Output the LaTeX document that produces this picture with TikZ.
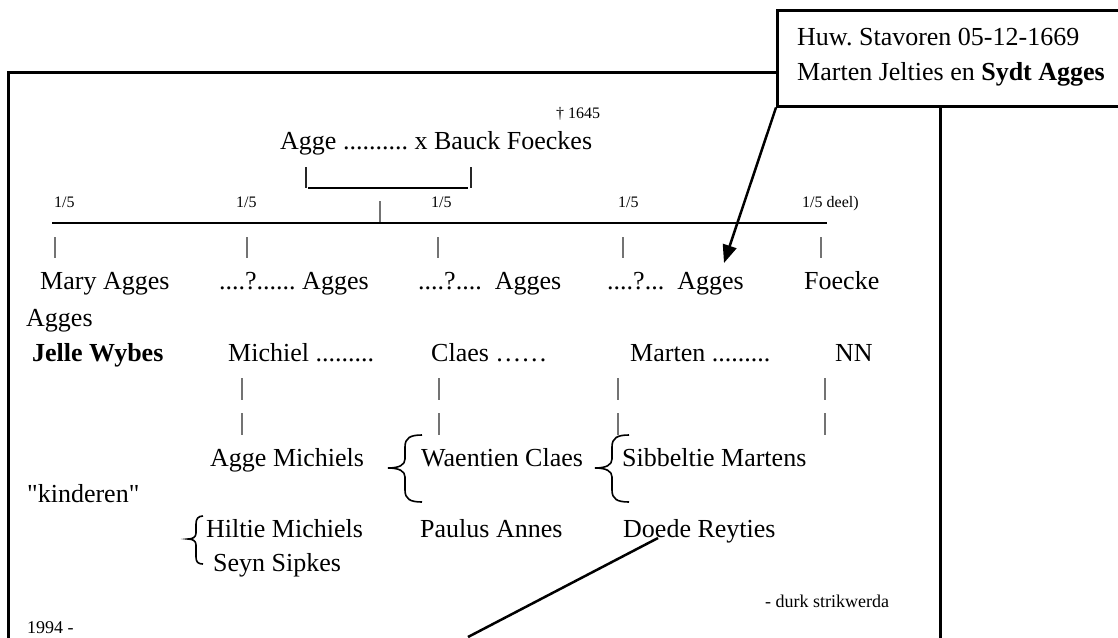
\documentclass[tikz,border=0pt]{standalone}
\usepackage{fontspec}
\setmainfont{Liberation Serif}[Ligatures=TeXOff]
\usetikzlibrary{arrows.meta}
\frenchspacing
\tikzset{
  txt/.style={anchor=base west, inner sep=0pt, font=\fontsize{26}{30}\selectfont},
  tiny/.style={anchor=base west, inner sep=0pt, font=\fontsize{16}{19}\selectfont},
  sign/.style={anchor=base west, inner sep=0pt, font=\fontsize{18}{21}\selectfont},
  heavy/.style={line width=2.5pt},
  framel/.style={line width=3pt},
  gbar/.style={line width=1.1pt, draw=black!55},
  dbar/.style={line width=1.4pt, draw=black!85},
  bracel/.style={line width=1.6pt},
}
\begin{document}
\begin{tikzpicture}[x=1pt,y=-1pt]
\useasboundingbox (0,0) rectangle (1118,637);
\clip (0,0) rectangle (1118,637);
% frame and callout
\node[draw, line width=2.5pt, anchor=north west, minimum width=360pt, minimum height=96pt, inner sep=0pt, fill=white] (box) at (776,9) {};
\coordinate (ftl) at (8,72);
\coordinate (fbl) at (8,660);
\coordinate (ftr) at (776,72);
\coordinate (rtop) at (940,105);
\coordinate (rbot) at (940,660);
\draw[framel] (fbl) -- (ftl) -- (ftr);
\draw[framel] (rtop) -- (rbot);
\node[txt] (huw) at (797,45) {\frenchspacing Huw. Stavoren 05-12-1669};
\node[txt] (mj) at (797,80) {Marten Jelties en \textbf{Sydt Agges}};
% parents
\node[tiny] (dag) at (556,118) {† 1645};
\node[txt] (par) at (280,149) {\frenchspacing Agge .......... x Bauck Foeckes};
\coordinate (pl1) at (306,167); \coordinate (pl2) at (306,188);
\coordinate (pr1) at (471,167); \coordinate (pr2) at (471,188);
\draw[dbar] (pl1) -- (pl2);
\draw[dbar] (pr1) -- (pr2);
\coordinate (mb1) at (308,188); \coordinate (mb2) at (468,188);
\draw[heavy] (mb1) -- (mb2);
\coordinate (tk1) at (380,201); \coordinate (tk2) at (380,222);
\draw[gbar] (tk1) -- (tk2);
% main line
\coordinate (ml1) at (52,223); \coordinate (ml2) at (827,223);
\draw[heavy] (ml1) -- (ml2);
\node[tiny] (f1) at (54,207) {1/5};
\node[tiny] (f2) at (236,207) {1/5};
\node[tiny] (f3) at (431,207) {1/5};
\node[tiny] (f4) at (618,207) {1/5};
\node[tiny] (f5) at (802,207) {1/5 deel)};
\foreach \x [count=\i] in {55,247,438,623,821}{
  \coordinate (ua\i) at (\x,237); \coordinate (ub\i) at (\x,258);
  \draw[gbar] (ua\i) -- (ub\i);
}
% children
\node[txt] (c1) at (40,289) {Mary Agges};
\node[txt] (c2) at (219,289) {\frenchspacing ....?...... Agges};
\node[txt] (c3) at (418,289) {....?....\ \ Agges};
\node[txt] (c4) at (607,289) {....?...\ \ Agges};
\node[txt] (c5) at (804,289) {Foecke};
\node[txt] (c1b) at (26,326) {Agges};
% spouses
\node[txt] (s1) at (32,361) {\textbf{Jelle Wybes}};
\node[txt] (s2) at (228,361) {Michiel .........};
\node[txt] (s3) at (431,361) {Claes ……};
\node[txt] (s4) at (630,361) {Marten .........};
\node[txt] (s5) at (835,361) {NN};
\foreach \x [count=\i] in {242,439,618,825}{
  \coordinate (va\i) at (\x,378); \coordinate (vb\i) at (\x,400);
  \coordinate (wa\i) at (\x,413); \coordinate (wb\i) at (\x,435);
  \draw[gbar] (va\i) -- (vb\i);
  \draw[gbar] (wa\i) -- (wb\i);
}
% grandchildren
\node[txt] (g1) at (210,466) {Agge Michiels};
\node[txt] (g2) at (421,466) {Waentien Claes};
\node[txt] (g3) at (622,466) {Sibbeltie Martens};
\node[txt] (kind) at (27,502) {"kinderen"};
\node[txt] (h1) at (206,537) {Hiltie Michiels};
\node[txt] (h2) at (420,537) {Paulus Annes};
\node[txt] (h3) at (623,537) {Doede Reyties};
\node[txt] (h4) at (213,571) {Seyn Sipkes};
\node[sign] (durk) at (765,607) {- durk strikwerda};
\node[sign] (yr) at (27,633) {1994 -};
% braces
\draw[bracel] (422,435) .. controls (410,435) and (405,438) .. (405,447) -- (405,459)
  .. controls (405,465) and (399,468) .. (388,468)
  .. controls (399,468) and (405,471) .. (405,477) -- (405,490)
  .. controls (405,499) and (410,502) .. (422,502);
\draw[bracel] (629,435) .. controls (617,435) and (612,438) .. (612,447) -- (612,459)
  .. controls (612,465) and (606,468) .. (595,468)
  .. controls (606,468) and (612,471) .. (612,477) -- (612,490)
  .. controls (612,499) and (617,502) .. (629,502);
\draw[bracel] (203,516) .. controls (198,516) and (196,519) .. (196,524) -- (196,533)
  .. controls (196,537) and (193,539) .. (188,539)
  .. controls (193,539) and (196,541) .. (196,545) -- (196,557)
  .. controls (196,562) and (198,564) .. (203,564);
% connectors
\coordinate (tip) at (724,263);
\draw[heavy, -{Triangle[length=18pt,width=14pt]}] (box.south west) -- (tip);
\coordinate (dstart) at (658,538);
\coordinate (dend) at (468,637);
\draw[heavy] (dstart) -- (dend);
\end{tikzpicture}
\end{document}
